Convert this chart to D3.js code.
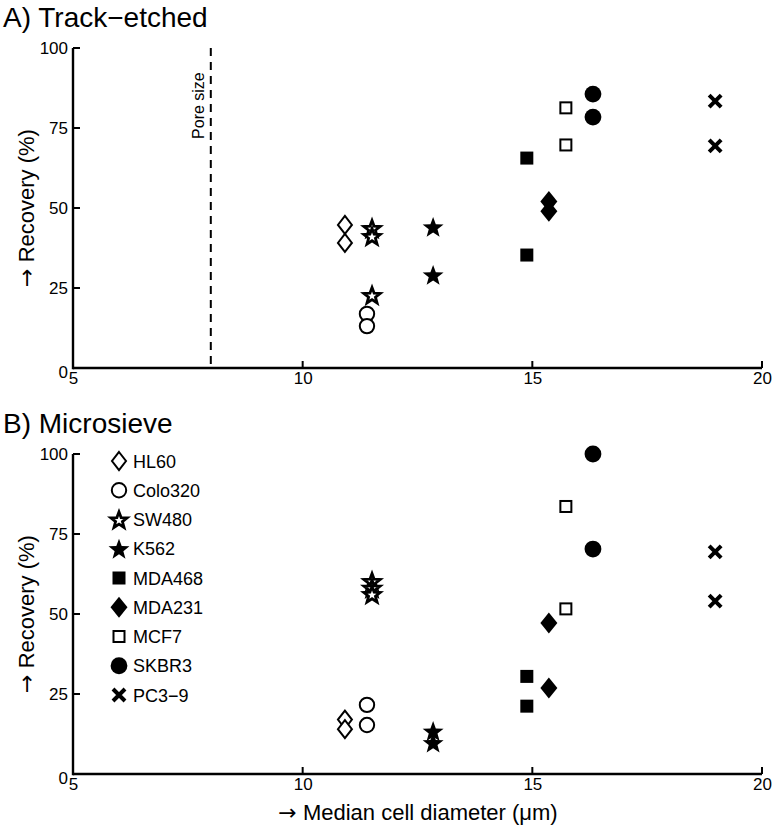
<!DOCTYPE html>
<html>
<head>
<meta charset="utf-8">
<script src="https://cdn.jsdelivr.net/npm/d3@7"></script>
<style>
  html, body { margin: 0; padding: 0; background: #fff; }
  svg { display: block; font-family: "Liberation Sans", Arial, sans-serif; }
</style>
</head>
<body>
<svg id="chart" width="774" height="829"></svg>
<script>
// ---------------- data ----------------
const cellLines = ["HL60", "Colo320", "SW480", "K562", "MDA468", "MDA231", "MCF7", "SKBR3", "PC3\u22129"];
const diameters = [10.92, 11.4, 11.51, 12.84, 14.88, 15.36, 15.73, 16.32, 18.98];
const trackEtched = [
  [44.7, 39.1],
  [16.9, 13.1],
  [43.7, 41.2, 22.8],
  [44.1, 29.1],
  [65.6, 35.3],
  [52.0, 49.0],
  [81.3, 69.7],
  [85.6, 78.4],
  [83.4, 69.4]
];
const microsieve = [
  [17.0, 14.0],
  [21.6, 15.3],
  [60.3, 58.2, 56.2],
  [13.4, 9.8],
  [30.5, 21.2],
  [47.2, 26.9],
  [83.6, 51.6],
  [100.0, 70.3],
  [69.4, 54.0]
];
const xTicks = [5, 10, 15, 20];
const yTicks = [0, 25, 50, 75, 100];
const poreSize = 8;
const panelTitles = ["A) Track\u2212etched", "B) Microsieve"];
const markerTypes = ["diamondOpen", "circleOpen", "starOpen", "starFilled", "squareFilled", "diamondFilled", "squareOpen", "circleFilled", "cross"];

// ---------------- drawing ----------------
const svg = d3.select("#chart");
const x = d3.scaleLinear().domain([5, 20]).range([73, 762]);

function starPath(ro, ri) {
  const pts = [];
  for (let i = 0; i < 10; i++) {
    const r = i % 2 === 0 ? ro : ri;
    const a = -Math.PI / 2 + i * Math.PI / 5;
    pts.push([r * Math.cos(a), r * Math.sin(a)]);
  }
  return "M" + pts.map(p => p[0].toFixed(2) + "," + p[1].toFixed(2)).join("L") + "Z";
}

function drawMarker(g, type, cx, cy) {
  const m = g.append("g").attr("transform", `translate(${cx},${cy})`);
  switch (type) {
    case "diamondOpen":
      m.append("path").attr("d", "M0,-9L7,0L0,9L-7,0Z")
        .attr("fill", "#fff").attr("stroke", "#000").attr("stroke-width", 2);
      break;
    case "circleOpen":
      m.append("circle").attr("r", 7.2)
        .attr("fill", "#fff").attr("stroke", "#000").attr("stroke-width", 2);
      break;
    case "starOpen":
      m.append("path").attr("d", starPath(8.6, 3.6)).attr("transform", "translate(0,1)")
        .attr("fill", "#fff").attr("stroke", "#000").attr("stroke-width", 2.8).attr("stroke-linejoin", "miter");
      break;
    case "starFilled":
      m.append("path").attr("d", starPath(11, 4.6)).attr("transform", "translate(0,1)")
        .attr("fill", "#000");
      break;
    case "squareFilled":
      m.append("rect").attr("x", -6.5).attr("y", -6.5).attr("width", 13).attr("height", 13)
        .attr("fill", "#000");
      break;
    case "diamondFilled":
      m.append("path").attr("d", "M0,-10.5L8.5,0L0,10.5L-8.5,0Z").attr("fill", "#000");
      break;
    case "squareOpen":
      m.append("rect").attr("x", -5.5).attr("y", -5.5).attr("width", 11).attr("height", 11)
        .attr("fill", "#fff").attr("stroke", "#000").attr("stroke-width", 2);
      break;
    case "circleFilled":
      m.append("circle").attr("r", 8.4).attr("fill", "#000");
      break;
    case "cross":
      m.append("path").attr("d", "M-6,-6L6,6M-6,6L6,-6")
        .attr("stroke", "#000").attr("stroke-width", 4).attr("fill", "none");
      break;
  }
}

function arrowText(sel, rest) {
  sel.append("tspan").attr("font-family", "DejaVu Sans, sans-serif").text("\u2192");
  sel.append("tspan").text(" " + rest);
}

function drawPanel(top, title, values, opts) {
  const y = d3.scaleLinear().domain([0, 100]).range([top + 320, top]);
  const g = svg.append("g");

  g.append("text").attr("x", 3).attr("y", top - 21)
    .attr("font-size", 28).attr("fill", "#000").text(title);

  // x axis
  const xAxis = d3.axisBottom(x).tickValues(xTicks).tickSize(0).tickPadding(4);
  const gx = g.append("g").attr("transform", `translate(0,${y(0)})`).call(xAxis);
  gx.select(".domain").remove();
  gx.selectAll("text").attr("font-size", 17).attr("font-family", "Liberation Sans, Arial, sans-serif").attr("fill", "#000");
  g.append("line").attr("x1", x(5)).attr("x2", x(20)).attr("y1", y(0)).attr("y2", y(0))
    .attr("stroke", "#000").attr("stroke-width", 2.4);
  g.selectAll(".xt").data(xTicks).enter().append("line")
    .attr("x1", d => x(d)).attr("x2", d => x(d)).attr("y1", y(0)).attr("y2", y(0) - 7)
    .attr("stroke", "#000").attr("stroke-width", 2);

  // y axis
  const yAxis = d3.axisLeft(y).tickValues(yTicks).tickSize(0).tickPadding(5);
  const gy = g.append("g").attr("transform", `translate(${x(5)},0)`).call(yAxis);
  gy.select(".domain").remove();
  gy.selectAll("text").attr("font-size", 17).attr("font-family", "Liberation Sans, Arial, sans-serif").attr("fill", "#000");
  gy.selectAll(".tick").filter(d => d === 0).select("text").attr("dy", "0.55em");
  g.append("line").attr("x1", x(5)).attr("x2", x(5)).attr("y1", y(0) + 1.2).attr("y2", y(100))
    .attr("stroke", "#000").attr("stroke-width", 2.4);
  g.selectAll(".yt").data(yTicks).enter().append("line")
    .attr("x1", x(5)).attr("x2", x(5) + 7).attr("y1", d => y(d)).attr("y2", d => y(d))
    .attr("stroke", "#000").attr("stroke-width", 2);

  // y title
  const yt = g.append("text")
    .attr("transform", `translate(34,${y(50)}) rotate(-90)`)
    .attr("text-anchor", "middle").attr("font-size", 22).attr("fill", "#000");
  arrowText(yt, "Recovery (%)");

  if (opts.pore) {
    g.append("line").attr("x1", x(poreSize)).attr("x2", x(poreSize))
      .attr("y1", y(100)).attr("y2", y(0))
      .attr("stroke", "#000").attr("stroke-width", 2).attr("stroke-dasharray", "8,6");
    g.append("text")
      .attr("transform", `translate(${x(poreSize) - 7},${y(82)}) rotate(-90)`)
      .attr("text-anchor", "middle").attr("font-size", 16).attr("fill", "#000")
      .text("Pore size");
  }

  // points
  values.forEach((vals, i) => {
    vals.forEach(v => drawMarker(g, markerTypes[i], x(diameters[i]), y(v)));
  });

  if (opts.legend) {
    const lg = g.append("g");
    cellLines.forEach((name, i) => {
      const cy = top + 7 + i * 29.25;
      drawMarker(lg, markerTypes[i], 119, cy);
      lg.append("text").attr("x", 133).attr("y", cy + 6.5)
        .attr("font-size", 18).attr("fill", "#000").text(name);
    });
  }
  if (opts.xlabel) {
    const xl = g.append("text").attr("x", 418).attr("y", top + 320 + 46)
      .attr("text-anchor", "middle").attr("font-size", 22).attr("fill", "#000");
    arrowText(xl, "Median cell diameter (\u03bcm)");
  }
}

drawPanel(48, panelTitles[0], trackEtched, { pore: true });
drawPanel(454, panelTitles[1], microsieve, { legend: true, xlabel: true });
</script>
</body>
</html>
